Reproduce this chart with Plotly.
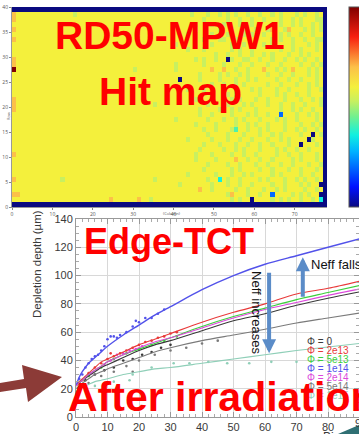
import plotly.graph_objects as go

W, H = 359, 434

# ---------------- Hit map (RD50-MPW1) ----------------
# one character per pixel cell, top row (39) first; column 77 is a dead column
hit_levels = {'B': 0.0, 'b': 0.2, 'c': 0.36, 't': 0.42, 'g': 0.53, 'Y': 0.6, 'o': 0.7, 'R': 1.0}
hit_rows_top_down = [
    "B" * 78,
    "oYYYYYYYYYYYYYYgYYYYYYYYYY" "YYYYYYYYYYYYYYYYYYgYYYgYYg" "YgYgYYgYYgYYgYgYYYgYgYYgY",
    "oYYYYYYYYYYYYYYYYYYYYYYYYY" "YYYYYYYYYYYYYYYYYYYYYgYYYY" "YgYYgYYgYYgYYYgYYgYgYYYgg",
    "YYYYYYYYYYYYYYYYYYYYYYYYYY" "YYYYYYYYYYYYYYgYYYYYYYYgYY" "gYYYgYYgYYYYgYgYYgYgYYgYg",
    "oYYYYYYYYYYYYYYYYYYYYYYYYY" "YYYYYYYYYYYYYYYYYYYgYYYYYg" "YYgYYgYYgYYgoYYgoYYYgYgYg",
    "YYYYYYYYYYYYYYYYYYYYYYYYYY" "YYYYYYYYYYYYYYYYYgYYYYYgYY" "YgYYYgYgYYgYYYgYgYYgYYgYY",
    "oYYYYYYYYYYYYYYYYYYYYYYYYY" "YYYYYYYYYYYYYYYYYYYYYgYYYg" "gYYgYYYYgYYYgYgYYgYYgYYgg",
    "YYYYYYYYYYYYYYYYYYYYYYYYYY" "YYYYYYYYYYYYYYgYYYYYYYYgYY" "YYgYYgYYYYgYgYYYYgYYYgYgY",
    "YYYYYYYYYYYYYYYYYYYYYYYYYY" "YYYYYYYYYYYYYYYYYgYYYgYYYY" "YYgYgYYgYYYYYYgYYgYgYYYgY",
    "YYYYYYYYYYYYYYYYYYYYYYYYYY" "YYYYYYYYYYYYYYYYYYYYYYYYgY" "YgYYgYYgYYgYgYYYgYYgYgYYY",
    "oYYYYYYYYYYYYYYYYYYYYYYYYY" "YYYYYYYYYYYYYYYYYYYgYgYYgY" "YBgYYggYYgYYgYYgYYgYgYYgY",
    "oYYYYYYYYYYYYYYYYYYYYYYYYY" "YYYYYYYYYYYYYYgYYYYYYgYYYY" "gYYYgYYgYYYgYYgYYYYgYYgYg",
    "RYYYYYYYYYYYYYYYYYYYYYYYYY" "YYYYgYYYYYYYYYgYYYYYYYYoYY" "oYYgYYgYYYoYYgYgYoYYYgYgY",
    "YYYYYYYYYYYYYYYYYYYYYYYYYY" "YYYYYYYYYYYYYYYYYYYYgYYYYg" "YgYYgYgYYYYgYYgYYgYYYgYgY",
    "YYYYYYYYYYYYYYYYYYYYYYYYYY" "YYYYYYYYYYYYYYYBYYYYgYYYYg" "YYYgYYgYgYYYYgYYgYYgYYYgY",
    "YYYYYYYYYYYYYYYYYYYYYYYYYY" "YYYYYYYYYYYYYYYYYYYYYYYgYY" "gYYgYgYYYYYgYYgYYYgYYgYgY",
    "YYYYYYYYYYYYYYYYYYYYYYYYYY" "YYYYYYYYYYYYYYYYYgYYYgYYYY" "YYYgYYYgYgYYYgYYgYYYYgYYg",
    "YYYYYYYYYYYYYYYYYYYYYYYYYY" "YYYYYYYYYYYYYYYYYYYYYYYgYY" "YgYgYYYYYgYYYgYgYYgYYgYYY",
    "oYYYYYYYYYYYYYYYYYYYYYYYYY" "YYYYYYYYYYYYYYYYYYYgYYYgYY" "YYgYgYYYgYYgYYYgYYYgYYgYg",
    "oYYYYYYYYYYYYYYYYYYYYYYYYY" "YYYYYYYYYgYYYYYYYYYYYYgYYY" "YgYYYgYgYYYgYYgYYgYYgYYYg",
    "oYYYYYYYYYYYYYYYYYYYYYYYYY" "YYYYYYYYYYYYYYYYYYYYgYYYYg" "YYgYgYYYgYYYYYgYYgYgYYgYY",
    "YYYYYYYYYYYYYYYYYYYYYYYYYY" "YYYYYYYYYYYYYYYYYYYYgYYgYY" "YYgYYYgYgYYgYYbYYYgYYgYgY",
    "YYYYYYYYYYYYYYYYYYYYYYYYYY" "YYYYYYYYYYYYYYgYYYYYYYgYYY" "gYYgYgYYYgYYYgYgYYgYYYYgY",
    "YYYYYYYYYYYYYYYYYYYYYYYYYY" "YYYYYYYYYYYYYYYYYYYgYYYYgY" "YYYgYYgYgYYgYYYgYYYgYYgYg",
    "YYYYYYYYYYYYYYYYYYYYYYYYYY" "YYYYYYYYYYYYYYYYYYYYYgYYgY" "YYgtYYgYYgYgYYYgYYgYgYYgY",
    "YYYYYYYYYYYYYYYYYYYYYYYYYY" "YYYYYYYYYYYYYYYYYYYYYYgYYY" "YgYYYgYYYgYYgYgYYYYgYYBYg",
    "YYYYYYYYYYYYYYYYYYYYYYYYYY" "YYYYYYYYYYYYYYYYYgYYYYYgYY" "YgYYgYYgYYYgYYgYgYYYYBgYY",
    "YYYYYYYYYYYYYYYYYYYYYYYYYY" "YYYYYYYYYYYYYYYYYYYYYgYYYg" "YYYgYYgYYgYYgYYYgYYBYYYgY",
    "YYYYYYYYYYYYYYYYYYYYYYYYYY" "YYYYYYYYYYYYYYYYYYYYgYYYYY" "gYYgYgYYYgYYYgYgYYgYYgYYY",
    "oYYYYYYYYYYYYYYYYYYYYYYYYY" "YYYYYYYYYYYYYYYYYYYgYYYgYY" "YYgYYgYYgYYYYgYYgYYgYYYgY",
    "YYYYYYYYYYYYYYYYYYYYYYYYYY" "YYYYYYYYYYYYYYYYYYYgYYYYgY" "YYYoYYgYYgYYgYYYYgYgYYYgY",
    "YYYYYYYYYYYYYYYYYYYYYYYYYY" "YYYYYYYYYYYYYYYYYYYYYYgYYY" "YgYYgYYYgYYgYYgYYgYYYgYYg",
    "YYYYYYYYYYYYYYYYYYYYYYYYYY" "YYYYYYYYYYYYYYYYYYYYYgYYYY" "YYgYgYYYYgYYgYYYgYYgYYYgY",
    "YYYYYYYYYYYYYYYYYYYYYYYYYY" "YYYYYYYYYYYYYYYYYgYYYYYYgY" "YYgYYgYgYYYYgYgYYYYgYYgYY",
    "oYYYYYYYYYYYgYYYYYYYYYYYYY" "YYYYYYYYYgYYYYYYYYYYYYgYYc" "YgYYgYYYYgYgYYYgYYgYgYYgY",
    "YYYYYYYYYYYYYYYYYYYYYYYYYY" "YYYYYYYYYYYYYYYgYYYYYYYgYY" "YgYYgYYgYYYYgYYgYYYgYgYYB",
    "YYYYYYYYYYYYYYYYYYYYYYYYYY" "YYYYYYYYYYYYYYYYYYYYoYYgYY" "YYYgYYgYYYgYYgYgYYYYgYYgY",
    "ooYYYYYYYYYYYYYYYYYYYYYYYY" "YYYYYYYYYYYYYYYYYYYYYYYYYY" "YgoYYYgYYgYYbYYYYgYgYgYYB",
    "YYYYYYYYYYYYYYYYYYYYYYYYoY" "YYYYYoYYgYYYYYYYYYYYYYYYYY" "YYgYgYYBYYYYgYgYgYYgYYgYc",
    "B" * 78,
]
dead_column_char = "B"
hit_x_ticks = [0, 10, 20, 30, 40, 50, 60, 70]
hit_y_ticks = [0, 5, 10, 15, 20, 25, 30, 35, 40]

hit_z = [[hit_levels[ch] for ch in (s.ljust(77, "Y")[:77] + dead_column_char)]
         for s in reversed(hit_rows_top_down)]

hit_colorscale = [
    [0.0, "#0a0a80"], [0.1, "#0010ff"], [0.28, "#00b4ff"], [0.36, "#10f0e0"],
    [0.45, "#70f090"], [0.53, "#c8f060"], [0.6, "#f4f03c"], [0.7, "#fcc048"],
    [0.85, "#f82010"], [1.0, "#800000"],
]

# ---------------- Edge-TCT depletion depth ----------------
bias_v = [0, 1, 2, 4, 6, 8, 10, 15, 20, 25, 30, 40, 50, 60, 70, 80, 90]
depth_phi_0    = [22, 24, 26, 29, 32, 35, 37, 42, 47, 51, 54, 61, 68, 73, 79, 84, 88.5]
depth_phi_2e13 = [22, 25, 27, 31, 35, 39, 41, 46, 51, 55, 59, 67, 74, 80, 87, 91, 96]
depth_phi_5e13 = [22, 24, 26, 30, 33, 36, 39, 44, 48, 52, 56, 64, 71, 77, 83, 88, 93]
depth_phi_1e14 = [22, 28, 32, 38, 42, 46, 50, 58, 65, 72, 78, 90, 100, 108, 114, 120, 126]
depth_phi_2e14 = [22, 24, 26, 30, 33, 36, 39, 44, 49, 53, 56, 63, 70, 76, 81, 86, 90.5]
depth_phi_5e14 = [20, 22, 24, 27, 30, 32, 34, 38, 42, 46, 49, 54, 58, 62, 66.5, 70, 73.5]
depth_phi_1e15 = [18, 20, 21, 23, 25, 26, 27, 30, 32, 34, 35, 38, 41, 44, 47, 49.5, 52]

dots_1e14_x = [1, 2, 3, 4, 5, 6, 7, 8, 9, 10, 11, 12, 13, 14, 16, 18, 19, 20, 22, 24, 26, 28]
dots_1e14_y = [27, 30, 35, 38, 41, 43, 44, 47, 50, 55, 57, 57, 56, 58, 60, 64, 68, 67, 70, 70, 73, 76]
dots_2e13_x = [2, 4, 6, 8, 10, 11, 12, 14, 16, 18, 20, 22, 24, 26, 28, 30, 32]
dots_2e13_y = [26, 31, 35, 38, 41, 45, 43, 45, 47, 49, 51, 53, 54, 56, 57, 59, 60]
dots_2e14_x = [3, 5, 7, 9, 11, 13, 15, 17, 19, 21]
dots_2e14_y = [28, 31, 34, 37, 40, 44, 45, 47, 48, 50]
dots_5e13_x = [4, 8, 12, 16, 20, 24, 28, 32]
dots_5e13_y = [29, 35, 41, 45, 48, 51, 54, 57]
dots_0_x = [3, 6, 9, 12, 15, 18, 21, 24, 27, 30]
dots_0_y = [26, 30, 33, 35, 40, 41, 44, 46, 49, 51]
dots_5e14_x = [4, 8, 12, 16, 18, 20, 25, 30, 35, 40, 45]
dots_5e14_y = [24, 29, 32, 36, 32, 40, 44, 47, 49, 52, 54]
dots_1e15_x = [6, 12, 17, 18, 24, 31, 36, 42, 48, 55, 62, 70, 77]
dots_1e15_y = [22, 25, 26, 30, 35, 38, 38, 39, 38, 38, 39, 39, 40]

depth_y_ticks = [0, 20, 40, 60, 80, 100, 120, 140]
bias_x_ticks = [0, 10, 20, 30, 40, 50, 60, 70, 80]
legend_labels = ["Φ = 0", "Φ = 2e13", "Φ = 5e13", "Φ = 1e14", "Φ = 2e14", "Φ = 5e14", "Φ = 1e15"]

# ---------------- helpers (pixel -> paper) ----------------
def px(x):
    return x / W

def py(y):
    return 1 - y / H

series = [
    (depth_phi_0, "#3a3a3a", dots_0_x, dots_0_y, 1.1),
    (depth_phi_2e13, "#e83a3a", dots_2e13_x, dots_2e13_y, 1.1),
    (depth_phi_5e13, "#3ccf3c", dots_5e13_x, dots_5e13_y, 1.1),
    (depth_phi_1e14, "#5252ea", dots_1e14_x, dots_1e14_y, 1.4),
    (depth_phi_2e14, "#dc48dc", dots_2e14_x, dots_2e14_y, 1.1),
    (depth_phi_5e14, "#7a7a7a", dots_5e14_x, dots_5e14_y, 1.1),
    (depth_phi_1e15, "#8fcfb8", dots_1e15_x, dots_1e15_y, 1.1),
]

fig = go.Figure()

fig.add_trace(go.Heatmap(
    z=hit_z, x0=0.5, dx=1, y0=0.5, dy=1,
    colorscale=hit_colorscale, zmin=0, zmax=1,
    xaxis="x", yaxis="y", hoverinfo="skip", xgap=0, ygap=0,
    colorbar=dict(
        x=px(349), xanchor="left", xpad=0,
        y=py(107), yanchor="middle", ypad=0,
        len=200 / H, lenmode="fraction", thickness=22,
        outlinewidth=1, outlinecolor="#555",
        showticklabels=False, ticks="",
    ),
))

for ys, col, dx_, dy_, lw in series:
    fig.add_trace(go.Scatter(
        x=dx_, y=dy_, mode="markers", xaxis="x2", yaxis="y2",
        marker=dict(size=2.6, color=col), hoverinfo="skip", showlegend=False,
    ))
for ys, col, dx_, dy_, lw in series:
    fig.add_trace(go.Scatter(
        x=bias_v, y=ys, mode="lines", xaxis="x2", yaxis="y2",
        line=dict(color=col, width=lw, shape="spline", smoothing=0.8),
        hoverinfo="skip", showlegend=False,
    ))

tick_font = dict(family="Liberation Sans, Arial, sans-serif", size=11, color="#3a3a3a")

fig.update_layout(
    width=W, height=H,
    margin=dict(l=0, r=0, t=0, b=0, pad=0, autoexpand=False),
    paper_bgcolor="white", plot_bgcolor="white",
    showlegend=False,
    xaxis=dict(
        domain=[px(12), px(327)], range=[0, 78], anchor="y",
        tickvals=hit_x_ticks, ticks="outside", ticklen=2, tickcolor="#888",
        tickfont=dict(size=5, color="#555"), showgrid=False, zeroline=False,
        showline=True, linecolor="#999", linewidth=1,
    ),
    yaxis=dict(
        domain=[py(207), py(7)], range=[0, 40], anchor="x",
        tickvals=hit_y_ticks, ticks="outside", ticklen=2, tickcolor="#888",
        tickfont=dict(size=5, color="#555"), showgrid=False, zeroline=False,
        showline=True, linecolor="#999", linewidth=1,
    ),
    xaxis2=dict(
        domain=[px(76), 1], range=[0, (W - 76) / 3.15], anchor="y2",
        tickvals=bias_x_ticks, ticks="inside", ticklen=5, tickcolor="#999",
        minor=dict(dtick=2, ticks="inside", ticklen=3, tickcolor="#aaa", showgrid=False),
        tickfont=tick_font, showgrid=True, gridcolor="#d8d8d8", gridwidth=1,
        zeroline=False, showline=True, linecolor="#999", linewidth=1, mirror="ticks",
    ),
    yaxis2=dict(
        domain=[py(417), py(219)], range=[0, 140], anchor="x2",
        tickvals=depth_y_ticks, ticks="inside", ticklen=5, tickcolor="#999",
        minor=dict(dtick=5, ticks="inside", ticklen=3, tickcolor="#aaa", showgrid=False),
        tickfont=tick_font, showgrid=True, gridcolor="#d8d8d8", gridwidth=1,
        zeroline=False, showline=True, linecolor="#999", linewidth=1, mirror="ticks",
    ),
)

ann = []
# heat map axis titles (tiny)
ann.append(dict(xref="paper", yref="paper", x=px(4), y=py(109), text="Row", textangle=-90,
                showarrow=False, font=dict(size=4, color="#555")))
ann.append(dict(xref="paper", yref="paper", x=px(172), y=py(213), text="(Column)",
                showarrow=False, font=dict(size=4, color="#555")))
# partially visible last x tick label and axis title
ann.append(dict(xref="paper", yref="paper", x=px(361), y=py(423), text="90",
                showarrow=False, font=tick_font, xanchor="center", yanchor="middle"))
ann.append(dict(xref="paper", yref="paper", x=px(321), y=py(428), text="Bias voltage (V)",
                showarrow=False, font=dict(family="Liberation Sans, Arial", size=12, color="#3a3a3a"),
                xanchor="left", yanchor="top"))
# y axis title
ann.append(dict(xref="paper", yref="paper", x=px(29), y=py(264), text="Depletion depth (µm)",
                textangle=-90, showarrow=False,
                font=dict(family="Liberation Sans, Arial", size=11.5, color="#3a3a3a")))
# legend
legend_colors = [s[1] for s in series]
for i, (lab, col) in enumerate(zip(legend_labels, legend_colors)):
    ann.append(dict(xref="paper", yref="paper", x=px(305), y=py(341 + 9 * i), text=lab,
                    showarrow=False, xanchor="left", yanchor="middle",
                    font=dict(family="Liberation Sans, Arial", size=10, color=col)))
# Neff arrows
arrow_col = "#5b8cc8"
ann.append(dict(xref="x2", yref="y2", axref="x2", ayref="y2", x=72, y=113, ax=72, ay=84,
                text="", showarrow=True, arrowhead=2, arrowsize=0.7, arrowwidth=4,
                arrowcolor=arrow_col))
ann.append(dict(xref="x2", yref="y2", axref="x2", ayref="y2", x=61.3, y=45, ax=61.3, ay=103,
                text="", showarrow=True, arrowhead=2, arrowsize=0.7, arrowwidth=4,
                arrowcolor=arrow_col))
ann.append(dict(xref="paper", yref="paper", x=px(309), y=py(264), text="Neff falls",
                showarrow=False, xanchor="left", yanchor="middle",
                font=dict(family="Liberation Sans, Arial", size=13, color="#111")))
# big red overlay titles
big = dict(family="Liberation Sans, Arial, sans-serif", color="#ff0000")
ann.append(dict(xref="paper", yref="paper", x=px(170), y=py(36), text="<b>RD50-MPW1</b>",
                showarrow=False, xanchor="center", yanchor="middle", font=dict(size=39, **big)))
ann.append(dict(xref="paper", yref="paper", x=px(170), y=py(91), text="<b>Hit map</b>",
                showarrow=False, xanchor="center", yanchor="middle", font=dict(size=39, **big)))
ann.append(dict(xref="paper", yref="paper", x=px(169), y=py(241), text="<b>Edge-TCT</b>",
                showarrow=False, xanchor="center", yanchor="middle", font=dict(size=36, **big)))
ann.append(dict(xref="paper", yref="paper", x=px(66), y=py(397), text="<b>After irradiation</b>",
                showarrow=False, xanchor="left", yanchor="middle", font=dict(size=41, **big)))
fig.update_layout(annotations=ann)

# rotated "Neff increases" label carried by an invisible vertical line shape
fig.add_shape(type="line", xref="paper", yref="paper",
              x0=px(257), x1=px(257), y0=py(272), y1=py(353),
              line=dict(width=0, color="rgba(0,0,0,0)"),
              label=dict(text="Neff increases", textangle=90, textposition="middle",
                         xanchor="center", yanchor="middle", padding=0,
                         font=dict(family="Liberation Sans, Arial", size=13, color="#111")))

# brown pointer arrow at left and corner decoration
pts = [(0, 383), (24, 379), (22, 365), (62, 377), (28, 402), (26, 388), (0, 392)]
path = "M " + " L ".join(f"{px(x):.4f},{py(y):.4f}" for x, y in pts) + " Z"
fig.add_shape(type="path", path=path, xref="paper", yref="paper",
              fillcolor="#8c3b37", line=dict(width=0))
tri = [(338, 434), (359, 425), (359, 434)]
fig.add_shape(type="path", xref="paper", yref="paper", fillcolor="#2f6f73", line=dict(width=0),
              path="M " + " L ".join(f"{px(x):.4f},{py(y):.4f}" for x, y in tri) + " Z")

fig.write_html(
    "out.html",
    config={"displayModeBar": False},
    post_script="document.body.style.margin='0px';document.body.style.overflow='hidden';",
)
